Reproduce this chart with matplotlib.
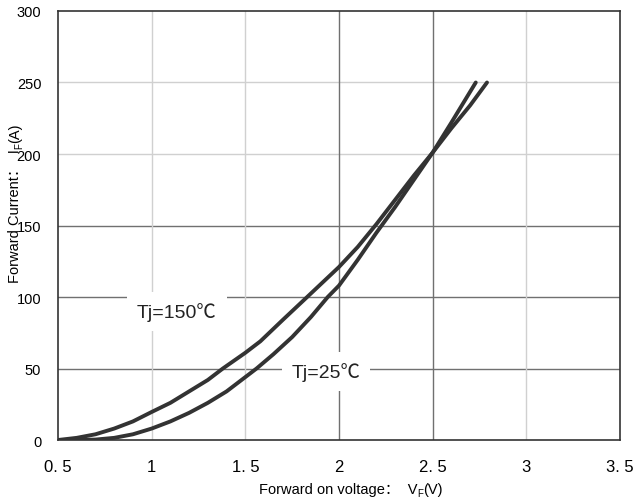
import matplotlib
matplotlib.use("Agg")
import matplotlib.pyplot as plt
from matplotlib.transforms import IdentityTransform

plt.rcParams['font.family'] = ['Liberation Sans', 'Noto Sans CJK SC', 'DejaVu Sans']

# values
v_150 = [0.5, 0.6, 0.7, 0.8, 0.9, 1.0, 1.1, 1.2, 1.3, 1.38, 1.5, 1.58, 1.7, 1.83,
         2.0, 2.1, 2.2, 2.3, 2.4, 2.5, 2.6, 2.73]
i_150 = [0, 1.5, 4, 8, 13, 19.6, 26, 34, 42, 50, 61, 69, 84, 100,
         121, 135, 151, 168, 185, 201, 222, 250]

v_25 = [0.5, 0.6, 0.7, 0.8, 0.9, 1.0, 1.1, 1.2, 1.3, 1.4, 1.5, 1.56, 1.65, 1.75,
        1.85, 1.94, 2.0, 2.1, 2.2, 2.3, 2.4, 2.5, 2.6, 2.7, 2.79]
i_25 = [0, 0, 0.3, 1.5, 4, 8, 13, 19, 26, 34, 44, 50, 60, 72,
        86, 100, 108, 126, 145, 163, 182, 201, 218, 234, 250]

x_ticks = [0.5, 1, 1.5, 2, 2.5, 3, 3.5]
x_labels = ["0. 5", "1", "1. 5", "2", "2. 5", "3", "3. 5"]
y_ticks = [0, 50, 100, 150, 200, 250, 300]

fig = plt.figure(figsize=(6.38, 5.02), dpi=100)
ax = fig.add_axes([0.0909, 0.1215, 0.8809, 0.8546])

# grid: some lines darker than others, as in the scan
dark = '#707070'
light = '#d0d0d0'
for y, c in zip([50, 100, 150, 200, 250], [dark, dark, dark, light, light]):
    ax.axhline(y, color=c, lw=1.0, zorder=1)
for x, c in zip([1, 1.5, 2, 2.5, 3], [light, light, dark, dark, light]):
    ax.axvline(x, color=c, lw=1.0, zorder=1)

ax.plot(v_150, i_150, color='#333333', lw=2.8, solid_capstyle='round', zorder=3)
ax.plot(v_25, i_25, color='#333333', lw=2.8, solid_capstyle='round', zorder=3)

ax.text(1.135, 90, "Tj=150℃", fontsize=14, ha='center', va='center', color='#222222',
        bbox=dict(facecolor='white', edgecolor='none', pad=7), zorder=2)
ax.text(1.93, 48, "Tj=25℃", fontsize=14, ha='center', va='center', color='#222222',
        bbox=dict(facecolor='white', edgecolor='none', pad=7), zorder=2)

ax.set_xlim(0.5, 3.5)
ax.set_ylim(0, 300)
ax.set_xticks(x_ticks)
ax.set_xticklabels(x_labels, fontsize=12)
ax.set_yticks(y_ticks)
ax.tick_params(axis='y', labelsize=10.5, length=0, pad=12)
ax.tick_params(axis='x', length=0, pad=14)
for s in ax.spines.values():
    s.set_color('#333333')
    s.set_linewidth(1.2)


def label_with_sub(parts, cx, cy, vertical=False):
    # parts: (text, fontsize, shift in px below the baseline)
    r = fig.canvas.get_renderer()
    texts = []
    sizes = []
    for s, fs, sh in parts:
        t = fig.text(0, 0, s, fontsize=fs, transform=IdentityTransform(),
                     rotation=90 if vertical else 0, ha='left', va='baseline',
                     rotation_mode='anchor')
        bb = t.get_window_extent(r)
        texts.append((t, sh))
        sizes.append(bb.height if vertical else bb.width)
    pos = -sum(sizes) / 2
    for (t, sh), w in zip(texts, sizes):
        if vertical:
            t.set_position((cx + sh, cy + pos))
        else:
            t.set_position((cx + pos, cy - sh))
        pos += w


H = 502
label_with_sub([("Forward on voltage：  V", 10.5, 0), ("F", 7, 3), ("(V)", 10.5, 0)],
               351, H - 494)
label_with_sub([("Forward Current：  I", 10.5, 0), ("F", 7, 3), ("(A)", 10.5, 0)],
               19, H - 203, vertical=True)

fig.savefig("out.png", dpi=100)
